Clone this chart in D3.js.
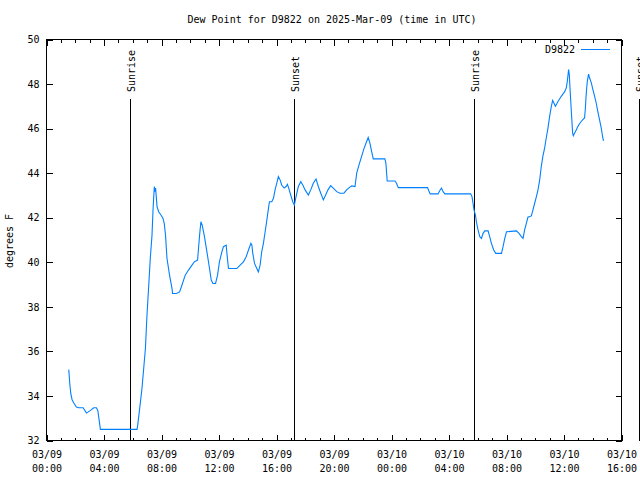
<!DOCTYPE html>
<html>
<head>
<meta charset="utf-8">
<script src="https://cdn.jsdelivr.net/npm/d3@7"></script>
<style>
  html, body { margin: 0; padding: 0; background: #fff; }
  svg { display: block; font-family: "DejaVu Sans Mono", "Liberation Mono", monospace; font-size: 10px; }
</style>
</head>
<body>
<svg id="chart" width="640" height="480"></svg>
<script>
// ---- Data (hours since 2025-03-09 00:00 UTC, dew point in °F) ----
const hours = [
  1.55,1.62,1.69,1.78,1.9,2.08,2.24,2.55,2.78,3.06,3.29,3.47,3.57,3.75,6.3,6.34,6.48,6.64,6.76,6.88,
  6.99,7.1,7.22,7.34,7.41,7.5,7.55,7.59,7.69,7.8,7.96,8.1,8.19,8.28,8.38,8.56,8.73,8.77,9.03,9.26,
  9.42,9.65,9.88,10.12,10.28,10.51,10.65,10.74,10.83,10.97,11.16,11.34,11.46,11.58,11.76,11.9,12.03,12.2,12.31,12.5,
  12.55,12.66,13.24,13.47,13.7,13.89,14.05,14.22,14.29,14.35,14.47,14.63,14.74,14.86,14.97,15.09,15.21,15.33,15.44,15.51,
  15.67,15.79,15.9,16.02,16.13,16.25,16.36,16.53,16.67,16.76,16.85,16.99,17.13,17.24,17.36,17.52,17.69,17.83,17.99,18.22,
  18.38,18.56,18.75,18.91,19.08,19.26,19.42,19.58,19.77,19.95,20.19,20.42,20.69,20.88,21.06,21.23,21.46,21.58,21.74,21.92,
  22.08,22.27,22.38,22.5,22.62,22.73,23.54,23.61,23.7,24.24,24.35,24.47,26.51,26.6,26.69,27.24,27.36,27.48,27.59,27.71,
  29.51,29.6,29.67,29.74,29.84,29.91,30.02,30.14,30.26,30.37,30.49,30.72,30.83,30.95,31.11,31.25,31.65,31.76,31.88,32.0,
  32.69,32.87,33.03,33.15,33.26,33.38,33.49,33.73,33.84,33.96,34.08,34.19,34.31,34.42,34.53,34.65,34.77,34.88,35.0,35.12,
  35.21,35.3,35.4,35.49,35.58,35.69,35.81,35.92,36.04,36.16,36.23,36.32,36.37,36.41,36.51,36.6,36.65,36.74,36.86,36.97,
  37.08,37.2,37.31,37.43,37.48,37.55,37.62,37.71,37.78,37.9,38.01,38.13,38.24,38.35,38.47,38.59,38.7,38.75
];
const dewPoint = [
  35.18,34.55,34.1,33.83,33.68,33.5,33.47,33.47,33.23,33.35,33.47,33.47,33.35,32.5,32.5,32.67,33.42,34.32,35.22,36.12,
  37.62,38.83,40.18,41.22,42.35,43.4,43.17,43.33,42.5,42.27,42.12,41.98,41.75,41.22,40.18,39.42,38.83,38.6,38.6,38.67,
  38.97,39.42,39.65,39.87,40.02,40.1,41.22,41.82,41.67,41.22,40.47,39.72,39.2,39.05,39.05,39.42,40.02,40.47,40.7,40.77,
  40.4,39.72,39.72,39.87,40.02,40.25,40.55,40.85,40.77,40.4,39.95,39.72,39.57,39.87,40.47,40.85,41.37,41.9,42.42,42.72,
  42.72,42.87,43.25,43.55,43.85,43.7,43.47,43.33,43.4,43.5,43.33,43.02,42.72,42.57,42.95,43.4,43.62,43.47,43.25,43.02,
  43.25,43.55,43.74,43.4,43.1,42.8,43.02,43.25,43.44,43.33,43.17,43.1,43.1,43.25,43.35,43.43,43.4,44.0,44.37,44.75,
  45.09,45.42,45.6,45.35,44.97,44.64,44.64,44.45,43.65,43.65,43.55,43.35,43.35,43.2,43.07,43.07,43.22,43.33,43.17,43.07,
  43.07,42.95,42.65,42.35,42.12,41.8,41.45,41.15,41.07,41.3,41.41,41.41,41.15,40.85,40.55,40.4,40.4,40.7,41.07,41.37,
  41.41,41.3,41.15,41.07,41.45,41.75,42.02,42.08,42.35,42.65,42.95,43.25,43.7,44.3,44.75,45.12,45.6,46.0,46.55,47.0,
  47.27,47.15,47.0,47.1,47.22,47.33,47.45,47.55,47.65,47.83,48.12,48.65,48.42,47.9,46.77,45.8,45.68,45.8,45.95,46.1,
  46.22,46.32,46.4,46.48,46.85,47.6,48.12,48.45,48.27,48.05,47.75,47.45,47.15,46.77,46.4,46.03,45.58,45.45
];
const sunEventHours = [5.83, 17.22, 29.72, 41.2];
const sunEventLabels = ["Sunrise", "Sunset", "Sunrise", "Sunset"];
const yTicks = [32, 34, 36, 38, 40, 42, 44, 46, 48, 50];
const xLabelHours = [0, 4, 8, 12, 16, 20, 24, 28, 32, 36, 40];
const seriesName = "D9822";
const titleText = "Dew Point for D9822 on 2025-Mar-09 (time in UTC)";
const yLabelText = "degrees F";

// ---- Setup ----
const base = Date.UTC(2025, 2, 9, 0, 0, 0);
const toDate = h => new Date(base + h * 3600 * 1000);
const svg = d3.select("#chart");
const L = 46.5, R = 621.5, T = 39.5, B = 440.5;

const x = d3.scaleUtc().domain([toDate(0), toDate(40)]).range([L, R]);
const y = d3.scaleLinear().domain([32, 50]).range([B, T]);

const fmtDate = d3.utcFormat("%m/%d");
const fmtTime = d3.utcFormat("%H:%M");

const majorTicks = xLabelHours.map(toDate);
const minorTicks = d3.range(0, 41).filter(h => h % 4 !== 0).map(toDate);

// Minor x ticks bottom & top
svg.append("g").attr("transform", `translate(0,${B})`)
  .call(d3.axisBottom(x).tickValues(minorTicks).tickSize(-3).tickFormat(""))
  .call(g => g.select(".domain").remove());
svg.append("g").attr("transform", `translate(0,${T})`)
  .call(d3.axisTop(x).tickValues(minorTicks).tickSize(-3).tickFormat(""))
  .call(g => g.select(".domain").remove());

// Major x ticks bottom with labels
const xAxisG = svg.append("g").attr("transform", `translate(0,${B})`)
  .call(d3.axisBottom(x).tickValues(majorTicks).tickSize(-6).tickPadding(0).tickFormat(""))
  .call(g => g.select(".domain").remove());
xAxisG.selectAll(".tick").each(function(d) {
  const t = d3.select(this).append("text")
    .attr("fill", "#000").attr("text-anchor", "middle").attr("font-size", 10)
    .attr("font-family", "DejaVu Sans Mono, monospace");
  t.append("tspan").attr("x", 0).attr("y", 17).text(fmtDate(d));
  t.append("tspan").attr("x", 0).attr("y", 31).text(fmtTime(d));
});
svg.append("g").attr("transform", `translate(0,${T})`)
  .call(d3.axisTop(x).tickValues(majorTicks).tickSize(-6).tickFormat(""))
  .call(g => g.select(".domain").remove());

// Y axes
svg.append("g").attr("transform", `translate(${L},0)`)
  .call(d3.axisLeft(y).tickValues(yTicks).tickSize(-6).tickPadding(7).tickFormat(d3.format("d")))
  .call(g => g.select(".domain").remove())
  .call(g => g.selectAll("text").attr("font-size", 10).attr("font-family", "DejaVu Sans Mono, monospace").attr("fill", "#000"));
svg.append("g").attr("transform", `translate(${R},0)`)
  .call(d3.axisRight(y).tickValues(yTicks).tickSize(-6).tickFormat(""))
  .call(g => g.select(".domain").remove());

svg.selectAll(".tick line").attr("stroke", "#000").attr("shape-rendering", "crispEdges");

// Border
svg.append("rect").attr("x", L).attr("y", T).attr("width", R - L).attr("height", B - T)
  .attr("fill", "none").attr("stroke", "#000").attr("stroke-width", 1).attr("shape-rendering", "crispEdges");

// Sunrise / sunset lines
sunEventHours.forEach((h, i) => {
  const xx = Math.round(x(toDate(h))) + 0.5;
  svg.append("line").attr("x1", xx).attr("x2", xx).attr("y1", 99).attr("y2", B)
    .attr("stroke", "#000").attr("stroke-width", 1).attr("shape-rendering", "crispEdges");
  svg.append("text").attr("transform", `translate(${xx + 4},92) rotate(-90)`)
    .attr("text-anchor", "start").attr("font-size", 10).attr("fill", "#000")
    .text(sunEventLabels[i]);
});

// Data line
const data = hours.map((h, i) => ({ t: toDate(h), v: dewPoint[i] }));
const line = d3.line().x(d => x(d.t)).y(d => y(d.v));
svg.append("path").datum(data).attr("d", line)
  .attr("fill", "none").attr("stroke", "rgb(0,128,255)").attr("stroke-width", 1.1)
  .attr("stroke-linejoin", "miter");

// Legend
svg.append("text").attr("x", 575).attr("y", 53).attr("text-anchor", "end")
  .attr("font-size", 10).attr("fill", "#000").text(seriesName);
svg.append("line").attr("x1", 581).attr("x2", 610).attr("y1", 49.5).attr("y2", 49.5)
  .attr("stroke", "rgb(0,128,255)").attr("stroke-width", 1).attr("shape-rendering", "crispEdges");

// Title
svg.append("text").attr("x", 332).attr("y", 23).attr("text-anchor", "middle")
  .attr("font-size", 10).attr("fill", "#000").text(titleText);

// Y label
svg.append("text").attr("transform", "translate(13,241) rotate(-90)").attr("text-anchor", "middle")
  .attr("font-size", 10).attr("fill", "#000").text(yLabelText);
</script>
</body>
</html>
